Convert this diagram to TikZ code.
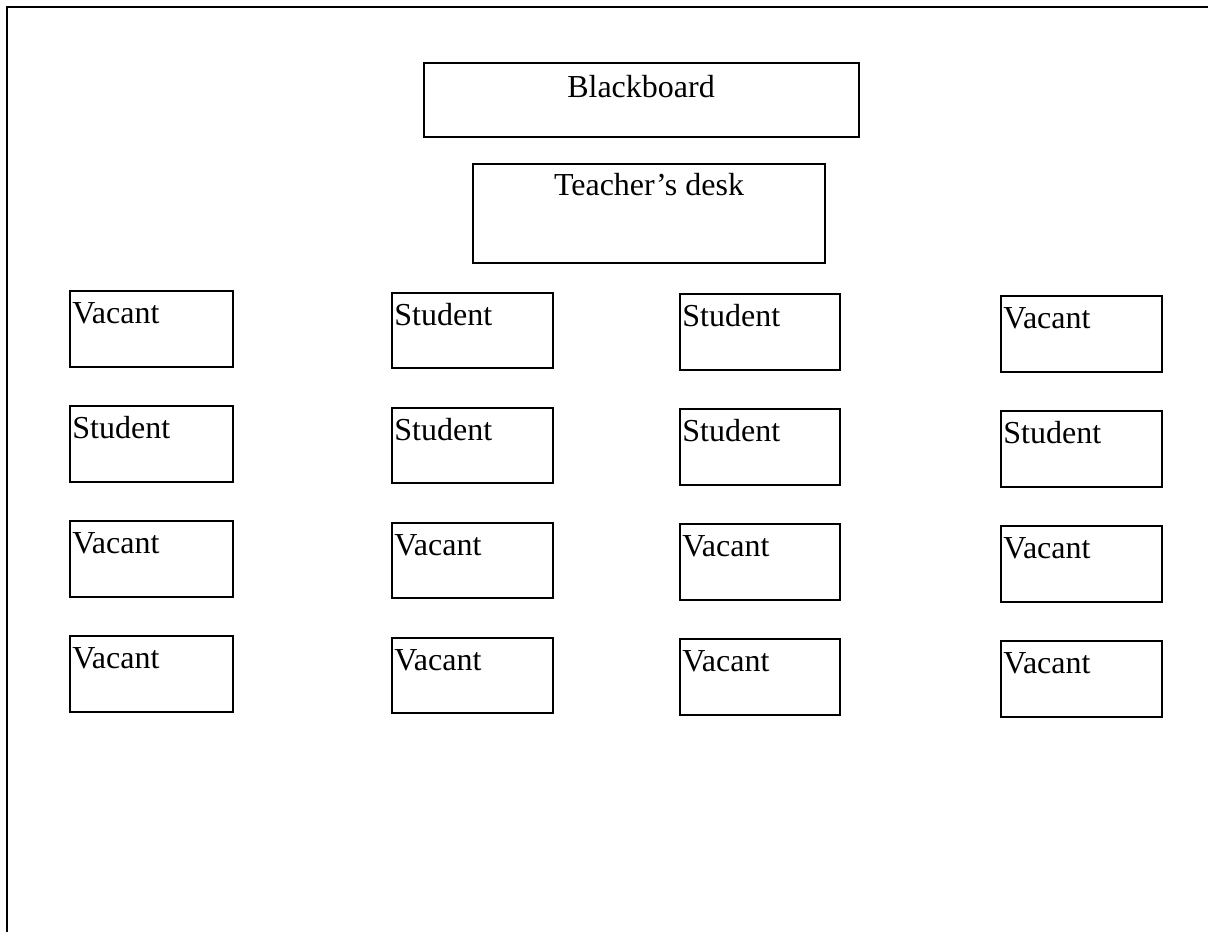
\documentclass[tikz,border=0pt]{standalone}
\usepackage{fontspec}
\setmainfont{Liberation Serif}
\newcommand\deskbox[7]{%
  \node[boxst, minimum width=#5*0.5pt, minimum height=#6*0.5pt, anchor=north west] (#1) at (#2,#3) {};
  \node[lblst, anchor=base west] (#1t) at (#2+2,#3+32) {#4};
}
\begin{document}
\begin{tikzpicture}[x=0.5pt,y=-0.5pt,
  boxst/.style={draw, line width=1pt, inner sep=0pt, outer sep=0pt},
  lblst/.style={inner sep=0pt, font=\fontsize{16}{19}\selectfont},
  framest/.style={line width=1.2pt}]
\useasboundingbox (0,0) rectangle (1208,932);
\coordinate (fA) at (7,932);
\coordinate (fB) at (7,7);
\coordinate (fC) at (1208,7);
\draw[framest] (fA) -- (fB) -- (fC);
% blackboard and teacher's desk
\node[boxst, minimum width=435*0.5pt, minimum height=74*0.5pt, anchor=north west] (bb) at (424,63) {};
\node[lblst, anchor=base] (bbt) at (641,97) {Blackboard};
\node[boxst, minimum width=352*0.5pt, minimum height=99*0.5pt, anchor=north west] (td) at (473,164) {};
\node[lblst, anchor=base] (tdt) at (649,195) {Teacher’s desk};
% column 1
\deskbox{a1}{70}{291}{Vacant}{163}{76}{}
\deskbox{a2}{70}{406}{Student}{163}{76}{}
\deskbox{a3}{70}{521}{Vacant}{163}{76}{}
\deskbox{a4}{70}{636}{Vacant}{163}{76}{}
% column 2
\deskbox{b1}{392}{293}{Student}{161}{75}{}
\deskbox{b2}{392}{408}{Student}{161}{75}{}
\deskbox{b3}{392}{523}{Vacant}{161}{75}{}
\deskbox{b4}{392}{638}{Vacant}{161}{75}{}
% column 3
\deskbox{c1}{680}{294}{Student}{160}{76}{}
\deskbox{c2}{680}{409}{Student}{160}{76}{}
\deskbox{c3}{680}{524}{Vacant}{160}{76}{}
\deskbox{c4}{680}{639}{Vacant}{160}{76}{}
% column 4
\deskbox{d1}{1001}{296}{Vacant}{161}{76}{}
\deskbox{d2}{1001}{411}{Student}{161}{76}{}
\deskbox{d3}{1001}{526}{Vacant}{161}{76}{}
\deskbox{d4}{1001}{641}{Vacant}{161}{76}{}
\end{tikzpicture}
\end{document}
